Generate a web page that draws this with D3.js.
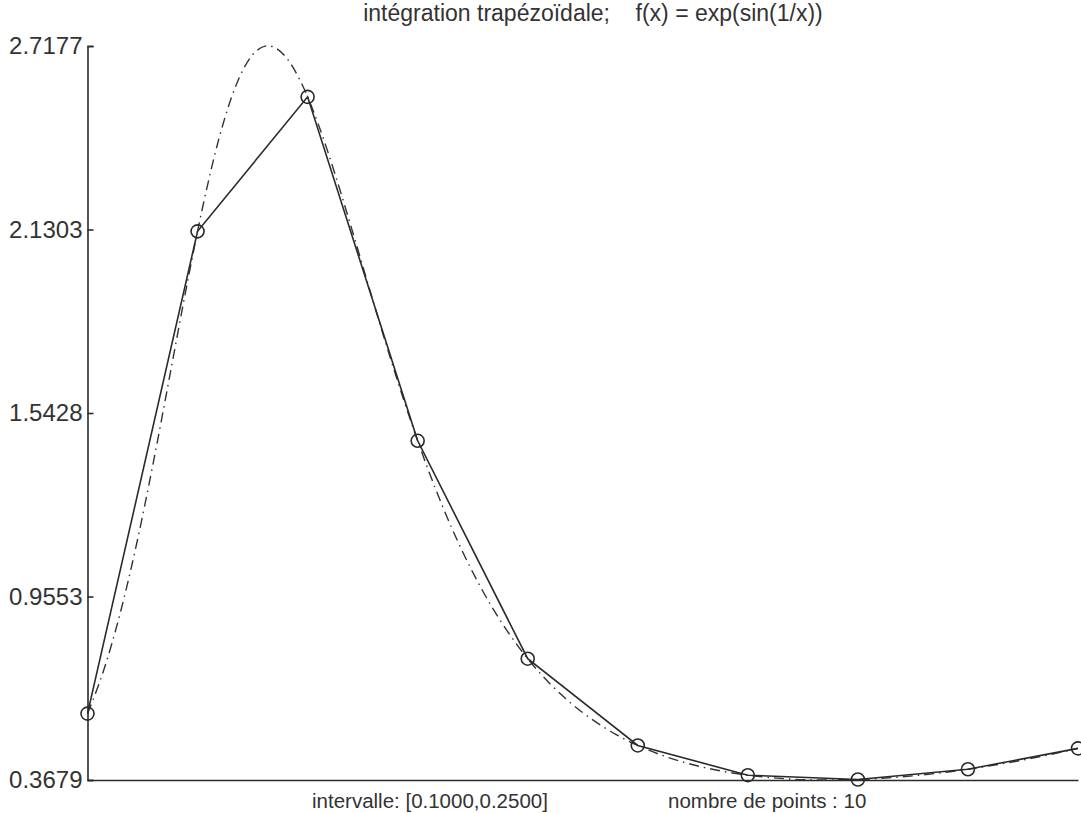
<!DOCTYPE html>
<html>
<head>
<meta charset="utf-8">
<script src="https://cdn.jsdelivr.net/npm/d3@7"></script>
<style>
  body { margin: 0; background: #fff; }
  svg { display: block; font-family: "Liberation Sans", Arial, sans-serif; }
</style>
</head>
<body>
<svg id="chart"></svg>
<script>
// points of the trapezoid (10 nodes on [0.1, 0.25])
var pointX = [0.1, 0.116667, 0.133333, 0.15, 0.166667, 0.183333, 0.2, 0.216667, 0.233333, 0.25];
var pointY = [0.5804, 2.1244, 2.5549, 1.4538, 0.7562, 0.4785, 0.3833, 0.3696, 0.4024, 0.4692];

// f(x) = exp(sin(1/x)) read on a finer grid (dash-dot curve)
var curveX = [0.1, 0.1025, 0.105, 0.1075, 0.11, 0.1125, 0.115, 0.1175, 0.12, 0.1225,
              0.125, 0.127324, 0.1275, 0.13, 0.1325, 0.135, 0.1375, 0.14, 0.1425, 0.145,
              0.1475, 0.15, 0.155, 0.16, 0.165, 0.17, 0.175, 0.18, 0.185, 0.19,
              0.195, 0.2, 0.205, 0.21, 0.215, 0.22, 0.225, 0.23, 0.235, 0.24,
              0.245, 0.25];
var curveY = [0.5804, 0.7223, 0.9059, 1.1299, 1.3878, 1.6663, 1.9469, 2.2079, 2.4286, 2.5923,
              2.6895, 2.7183, 2.7181, 2.6831, 2.5943, 2.4644, 2.3066, 2.1332, 1.9545, 1.7782,
              1.6102, 1.4538, 1.1825, 0.9674, 0.8019, 0.6769, 0.5835, 0.5142, 0.4633, 0.4265,
              0.4006, 0.3833, 0.3730, 0.3683, 0.3686, 0.3730, 0.3812, 0.3929, 0.4076, 0.4254,
              0.4459, 0.4692];

var yTickValues = [0.3679, 0.9553, 1.5428, 2.1303, 2.7177];
var yTickLabels = ["0.3679", "0.9553", "1.5428", "2.1303", "2.7177"];

var titleText = "intégration trapézoïdale;    f(x) = exp(sin(1/x))";
var xLabelLeft = "intervalle: [0.1000,0.2500]";
var xLabelRight = "nombre de points : 10";

var width = 1081, height = 813;
var ink = "#2a2a2a";

var svg = d3.select('#chart')
    .attr('width', width)
    .attr('height', height);

var x = d3.scaleLinear()
    .domain([0.1, 0.25])
    .range([87.5, 1078]);

var y = d3.scaleLinear()
    .domain([yTickValues[0], yTickValues[yTickValues.length - 1]])
    .range([780, 46]);

// axes
var yAxis = svg.append('g')
    .attr('transform', 'translate(' + x.range()[0] + ',0)')
    .call(d3.axisLeft(y)
        .tickValues(yTickValues)
        .tickFormat(function(d, i) { return yTickLabels[i]; })
        .tickSize(-6)
        .tickSizeOuter(-6)
        .tickPadding(5));

var xAxis = svg.append('g')
    .attr('transform', 'translate(0,' + y.range()[0] + ')')
    .call(d3.axisBottom(x).tickValues([]).tickSizeOuter(0));

svg.selectAll('.domain, .tick line')
    .attr('stroke', ink)
    .attr('stroke-width', 1.6);
yAxis.selectAll('text')
    .attr('fill', '#333')
    .style('font-size', '24px');

// exact function, dash-dot
var line = d3.line()
    .x(function(d) { return x(d[0]); })
    .y(function(d) { return y(d[1]); });

svg.append('path')
    .datum(d3.zip(curveX, curveY))
    .attr('fill', 'none')
    .attr('stroke', '#333')
    .attr('stroke-width', 1.4)
    .attr('stroke-dasharray', '10,5,1.5,5')
    .attr('d', line.curve(d3.curveMonotoneX));

// trapezoid polyline
var pts = d3.zip(pointX, pointY);
svg.append('path')
    .datum(pts)
    .attr('fill', 'none')
    .attr('stroke', ink)
    .attr('stroke-width', 1.6)
    .attr('d', d3.line()
        .x(function(d) { return x(d[0]); })
        .y(function(d) { return y(d[1]); }));

svg.selectAll('.node')
    .data(pts)
    .enter().append('circle')
    .attr('class', 'node')
    .attr('cx', function(d) { return x(d[0]); })
    .attr('cy', function(d) { return y(d[1]); })
    .attr('r', 6.5)
    .attr('fill', 'none')
    .attr('stroke', ink)
    .attr('stroke-width', 1.6);

// texts
svg.append('text')
    .attr('x', 593)
    .attr('y', 21)
    .attr('text-anchor', 'middle')
    .attr('fill', '#333')
    .style('font-size', '23px')
    .style('white-space', 'pre')
    .attr('xml:space', 'preserve')
    .text(titleText);

svg.append('text')
    .attr('x', 312)
    .attr('y', 808)
    .attr('fill', '#333')
    .style('font-size', '20.5px')
    .text(xLabelLeft);

svg.append('text')
    .attr('x', 668)
    .attr('y', 808)
    .attr('fill', '#333')
    .style('font-size', '20.5px')
    .text(xLabelRight);
</script>
</body>
</html>
